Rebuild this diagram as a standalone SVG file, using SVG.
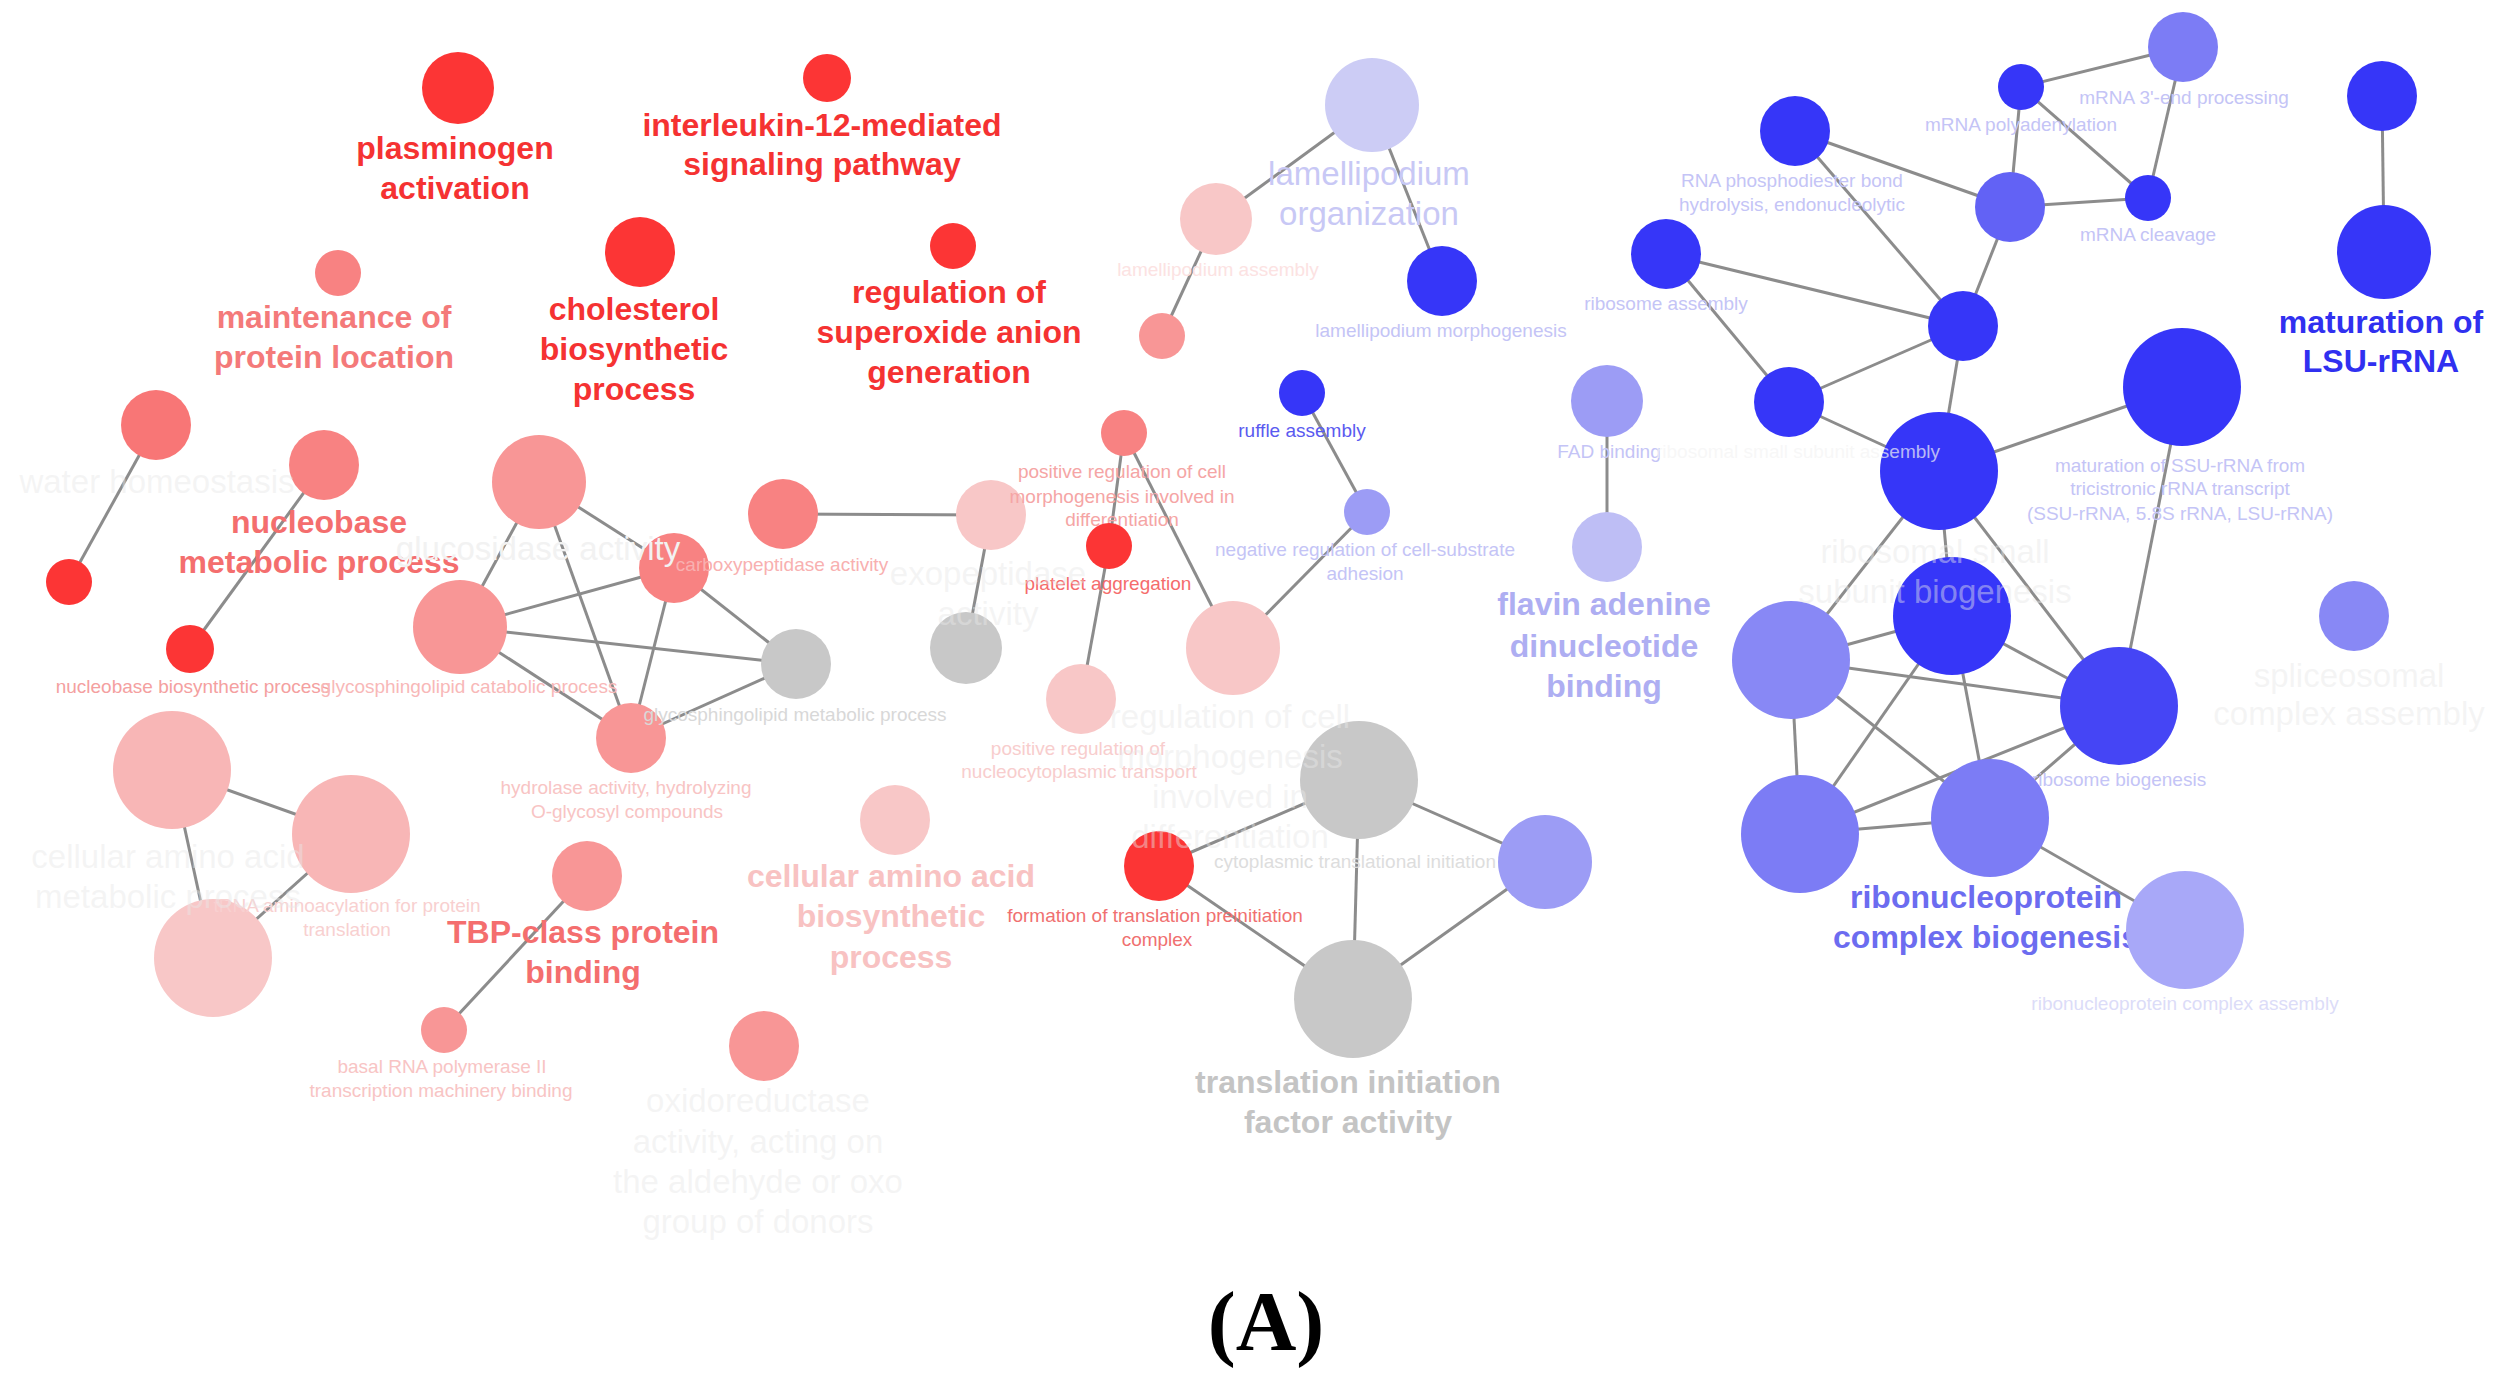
<svg xmlns="http://www.w3.org/2000/svg" width="2504" height="1394" viewBox="0 0 2504 1394">
<style>
text{font-family:"Liberation Sans",Arial,sans-serif;text-anchor:middle}
.big{font-size:32px;font-weight:bold}
.bigr{font-size:33px}
.sm{font-size:19px}
.e line{stroke:#8c8c8c;stroke-width:3}
.r1{fill:#fc3535}.r2{fill:#f87676}.r3{fill:#f88282}.r4{fill:#f89696}.r5{fill:#f8b6b6}.r6{fill:#f8c7c7}
.g{fill:#c8c8c8}
.b1{fill:#3636f8}.b2{fill:#4545f5}.b3{fill:#6262f5}.b4{fill:#7c7cf5}.b5{fill:#8888f5}.b6{fill:#9c9cf5}.b7{fill:#a8a8f8}.b8{fill:#bebef5}.b9{fill:#ccccf5}
.tr{fill:#f53232}.tp{fill:#f47a7a}.tpl{fill:#f8c2c2}.tb{fill:#3030f0}.tbm{fill:#6c6cf0}.tbl{fill:#aeaef2}.tlav{fill:#c8c8f5}.tg{fill:#c4c4c4}
.tf{fill:#e8e8e8;fill-opacity:0.45}
.sb{fill:#c4c4f6}.sr{fill:#f8c4c4}
</style>
<g id="edges" class="e">
<line x1="156" y1="425" x2="69" y2="582"/>
<line x1="324" y1="465" x2="190" y2="649"/>
<line x1="539" y1="482" x2="674" y2="568"/>
<line x1="539" y1="482" x2="460" y2="627"/>
<line x1="539" y1="482" x2="631" y2="738"/>
<line x1="460" y1="627" x2="674" y2="568"/>
<line x1="460" y1="627" x2="796" y2="664"/>
<line x1="460" y1="627" x2="631" y2="738"/>
<line x1="674" y1="568" x2="796" y2="664"/>
<line x1="674" y1="568" x2="631" y2="738"/>
<line x1="796" y1="664" x2="631" y2="738"/>
<line x1="783" y1="514" x2="991" y2="515"/>
<line x1="991" y1="515" x2="966" y2="648"/>
<line x1="172" y1="770" x2="351" y2="834"/>
<line x1="172" y1="770" x2="213" y2="958"/>
<line x1="351" y1="834" x2="213" y2="958"/>
<line x1="587" y1="876" x2="444" y2="1030"/>
<line x1="1216" y1="219" x2="1162" y2="336"/>
<line x1="1372" y1="105" x2="1216" y2="219"/>
<line x1="1372" y1="105" x2="1442" y2="281"/>
<line x1="1124" y1="433" x2="1109" y2="546"/>
<line x1="1124" y1="433" x2="1233" y2="648"/>
<line x1="1109" y1="546" x2="1081" y2="699"/>
<line x1="1302" y1="393" x2="1367" y2="512"/>
<line x1="1367" y1="512" x2="1233" y2="648"/>
<line x1="1607" y1="401" x2="1607" y2="547"/>
<line x1="1159" y1="866" x2="1359" y2="780"/>
<line x1="1159" y1="866" x2="1353" y2="999"/>
<line x1="1359" y1="780" x2="1353" y2="999"/>
<line x1="1359" y1="780" x2="1545" y2="862"/>
<line x1="1545" y1="862" x2="1353" y2="999"/>
<line x1="1795" y1="131" x2="1963" y2="326"/>
<line x1="1795" y1="131" x2="2010" y2="207"/>
<line x1="1666" y1="254" x2="1963" y2="326"/>
<line x1="1666" y1="254" x2="1789" y2="402"/>
<line x1="1789" y1="402" x2="1963" y2="326"/>
<line x1="1789" y1="402" x2="1939" y2="471"/>
<line x1="1963" y1="326" x2="2010" y2="207"/>
<line x1="1963" y1="326" x2="1939" y2="471"/>
<line x1="2021" y1="87" x2="2183" y2="47"/>
<line x1="2021" y1="87" x2="2010" y2="207"/>
<line x1="2021" y1="87" x2="2148" y2="198"/>
<line x1="2183" y1="47" x2="2148" y2="198"/>
<line x1="2010" y1="207" x2="2148" y2="198"/>
<line x1="2382" y1="96" x2="2384" y2="252"/>
<line x1="1939" y1="471" x2="2182" y2="387"/>
<line x1="1939" y1="471" x2="1952" y2="616"/>
<line x1="1939" y1="471" x2="2119" y2="706"/>
<line x1="1939" y1="471" x2="1791" y2="660"/>
<line x1="2182" y1="387" x2="2119" y2="706"/>
<line x1="1952" y1="616" x2="1791" y2="660"/>
<line x1="1952" y1="616" x2="2119" y2="706"/>
<line x1="1791" y1="660" x2="2119" y2="706"/>
<line x1="1952" y1="616" x2="1990" y2="818"/>
<line x1="1952" y1="616" x2="1800" y2="834"/>
<line x1="1791" y1="660" x2="1990" y2="818"/>
<line x1="2119" y1="706" x2="1800" y2="834"/>
<line x1="2119" y1="706" x2="1990" y2="818"/>
<line x1="1791" y1="660" x2="1800" y2="834"/>
<line x1="1800" y1="834" x2="1990" y2="818"/>
<line x1="1990" y1="818" x2="2185" y2="930"/>
</g>
<g id="n-plasminogen"><circle class="r1" cx="458" cy="88" r="36"/><text class="big tr" x="455" y="159">plasminogen</text><text class="big tr" x="455" y="199">activation</text></g>
<g id="n-interleukin"><circle class="r1" cx="827" cy="78" r="24"/><text class="big tr" x="822" y="136">interleukin-12-mediated</text><text class="big tr" x="822" y="175">signaling pathway</text></g>
<g id="n-cholesterol"><circle class="r1" cx="640" cy="252" r="35"/><text class="big tr" x="634" y="320">cholesterol</text><text class="big tr" x="634" y="360">biosynthetic</text><text class="big tr" x="634" y="400">process</text></g>
<g id="n-superoxide"><circle class="r1" cx="953" cy="246" r="23"/><text class="big tr" x="949" y="303">regulation of</text><text class="big tr" x="949" y="343">superoxide anion</text><text class="big tr" x="949" y="383">generation</text></g>
<g id="n-maintenance"><circle class="r3" cx="338" cy="273" r="23"/><text class="big tp" x="334" y="328">maintenance of</text><text class="big tp" x="334" y="368">protein location</text></g>
<g id="n-water1"><circle class="r2" cx="156" cy="425" r="35"/></g>
<g id="n-water2"><circle class="r1" cx="69" cy="582" r="23"/></g>
<g id="n-nucleobase"><circle class="r3" cx="324" cy="465" r="35"/><text class="big" fill="#f46e6e" x="319" y="533">nucleobase</text><text class="big" fill="#f46e6e" x="319" y="573">metabolic process</text></g>
<g id="n-nucbio"><circle class="r1" cx="190" cy="649" r="24"/><text class="sm" fill="#f4a0a0" x="193" y="693">nucleobase biosynthetic process</text></g>
<g id="n-glyco-cat"><circle class="r4" cx="460" cy="627" r="47"/><text class="sm" fill="#f8b8b8" x="469" y="693">glycosphingolipid catabolic process</text></g>
<g id="n-glucA"><circle class="r4" cx="539" cy="482" r="47"/></g>
<g id="n-hydrolase"><circle class="r4" cx="631" cy="738" r="35"/><text class="sm sr" x="626" y="794">hydrolase activity, hydrolyzing</text><text class="sm sr" x="627" y="818">O-glycosyl compounds</text></g>
<g id="n-glyco-met"><circle class="g" cx="796" cy="664" r="35"/><text class="sm" fill="#d8d8d8" x="795" y="721">glycosphingolipid metabolic process</text></g>
<g id="n-carboxy"><circle class="r3" cx="674" cy="568" r="35"/><text class="sm" fill="#f8b0b0" x="782" y="571">carboxypeptidase activity</text></g>
<g id="n-exo1"><circle class="r3" cx="783" cy="514" r="35"/></g>
<g id="n-exo2"><circle class="r6" cx="991" cy="515" r="35"/></g>
<g id="n-exo3"><circle class="g" cx="966" cy="648" r="36"/></g>
<g id="n-aa1"><circle class="r5" cx="172" cy="770" r="59"/></g>
<g id="n-aa2"><circle class="r5" cx="351" cy="834" r="59"/></g>
<g id="n-trna"><circle class="r6" cx="213" cy="958" r="59"/><text class="sm" fill="#f8d0d0" x="347" y="912">tRNA aminoacylation for protein</text><text class="sm" fill="#f8d0d0" x="347" y="936">translation</text></g>
<g id="n-tbp"><circle class="r4" cx="587" cy="876" r="35"/><text class="big" fill="#f46e6e" x="583" y="943">TBP-class protein</text><text class="big" fill="#f46e6e" x="583" y="983">binding</text></g>
<g id="n-basal"><circle class="r4" cx="444" cy="1030" r="23"/><text class="sm sr" x="442" y="1073">basal RNA polymerase II</text><text class="sm sr" x="441" y="1097">transcription machinery binding</text></g>
<g id="n-oxido"><circle class="r4" cx="764" cy="1046" r="35"/></g>
<g id="n-aabio"><circle class="r6" cx="895" cy="820" r="35"/><text class="big tpl" x="891" y="887">cellular amino acid</text><text class="big tpl" x="891" y="927">biosynthetic</text><text class="big tpl" x="891" y="968">process</text></g>
<g id="n-lam-asm"><circle class="r6" cx="1216" cy="219" r="36"/><text class="sm" fill="#fce2e2" x="1218" y="276">lamellipodium assembly</text></g>
<g id="n-lam-small"><circle class="r4" cx="1162" cy="336" r="23"/></g>
<g id="n-lam-org"><circle class="b9" cx="1372" cy="105" r="47"/><text class="bigr tlav" x="1369" y="185">lamellipodium</text><text class="bigr tlav" x="1369" y="225">organization</text></g>
<g id="n-lam-morph"><circle class="b1" cx="1442" cy="281" r="35"/><text class="sm sb" x="1441" y="337">lamellipodium morphogenesis</text></g>
<g id="n-posmorph"><circle class="r3" cx="1124" cy="433" r="23"/><text class="sm" fill="#f5a5a5" x="1122" y="478">positive regulation of cell</text><text class="sm" fill="#f5a5a5" x="1122" y="503">morphogenesis involved in</text><text class="sm" fill="#f5a5a5" x="1122" y="526">differentiation</text></g>
<g id="n-platelet"><circle class="r1" cx="1109" cy="546" r="23"/><text class="sm" fill="#f56c6c" x="1108" y="590">platelet aggregation</text></g>
<g id="n-nucleocyto"><circle class="r6" cx="1081" cy="699" r="35"/><text class="sm" fill="#f8cdcd" x="1078" y="755">positive regulation of</text><text class="sm" fill="#f8cdcd" x="1079" y="778">nucleocytoplasmic transport</text></g>
<g id="n-regmorph"><circle class="r6" cx="1233" cy="648" r="47"/></g>
<g id="n-ruffle"><circle class="b1" cx="1302" cy="393" r="23"/><text class="sm" fill="#5a5af0" x="1302" y="437">ruffle assembly</text></g>
<g id="n-negreg"><circle class="b6" cx="1367" cy="512" r="23"/><text class="sm sb" x="1365" y="556">negative regulation of cell-substrate</text><text class="sm sb" x="1365" y="580">adhesion</text></g>
<g id="n-fad"><circle class="b6" cx="1607" cy="401" r="36"/><text class="sm sb" x="1609" y="458">FAD binding</text></g>
<g id="n-flavin"><circle class="b8" cx="1607" cy="547" r="35"/><text class="big tbl" x="1604" y="615">flavin adenine</text><text class="big tbl" x="1604" y="657">dinucleotide</text><text class="big tbl" x="1604" y="697">binding</text></g>
<g id="n-tl-gray1"><circle class="g" cx="1359" cy="780" r="59"/></g>
<g id="n-formation"><circle class="r1" cx="1159" cy="866" r="35"/><text class="sm" fill="#f07070" x="1155" y="922">formation of translation preinitiation</text><text class="sm" fill="#f07070" x="1157" y="946">complex</text></g>
<g id="n-cyto-init"><circle class="b6" cx="1545" cy="862" r="47"/><text class="sm" fill="#dddddd" x="1355" y="868">cytoplasmic translational initiation</text></g>
<g id="n-tl-factor"><circle class="g" cx="1353" cy="999" r="59"/><text class="big tg" x="1348" y="1093">translation initiation</text><text class="big tg" x="1348" y="1133">factor activity</text></g>
<g id="n-rnaphos"><circle class="b1" cx="1795" cy="131" r="35"/><text class="sm sb" x="1792" y="187">RNA phosphodiester bond</text><text class="sm sb" x="1792" y="211">hydrolysis, endonucleolytic</text></g>
<g id="n-riboasm"><circle class="b1" cx="1666" cy="254" r="35"/><text class="sm sb" x="1666" y="310">ribosome assembly</text></g>
<g id="n-polyA"><circle class="b1" cx="2021" cy="87" r="23"/><text class="sm sb" x="2021" y="131">mRNA polyadenylation</text></g>
<g id="n-3end"><circle class="b4" cx="2183" cy="47" r="35"/><text class="sm sb" x="2184" y="104">mRNA 3'-end processing</text></g>
<g id="n-rnaproc"><circle class="b3" cx="2010" cy="207" r="35"/></g>
<g id="n-cleavage"><circle class="b1" cx="2148" cy="198" r="23"/><text class="sm sb" x="2148" y="241">mRNA cleavage</text></g>
<g id="n-hub"><circle class="b1" cx="1963" cy="326" r="35"/></g>
<g id="n-lsu1"><circle class="b1" cx="2382" cy="96" r="35"/></g>
<g id="n-lsu2"><circle class="b1" cx="2384" cy="252" r="47"/><text class="big tb" x="2381" y="333">maturation of</text><text class="big tb" x="2381" y="372">LSU-rRNA</text></g>
<g id="n-N1"><circle class="b1" cx="1939" cy="471" r="59"/></g>
<g id="n-riblarge"><circle class="b1" cx="1789" cy="402" r="35"/><text class="sm" fill="#f4f4f4" fill-opacity="0.7" x="1798" y="458">ribosomal small subunit assembly</text></g>
<g id="n-ssu"><circle class="b1" cx="2182" cy="387" r="59"/><text class="sm sb" x="2180" y="472">maturation of SSU-rRNA from</text><text class="sm sb" x="2180" y="495">tricistronic rRNA transcript</text><text class="sm sb" x="2180" y="520">(SSU-rRNA, 5.8S rRNA, LSU-rRNA)</text></g>
<g id="n-N3"><circle class="b5" cx="1791" cy="660" r="59"/></g>
<g id="n-N4"><circle class="b1" cx="1952" cy="616" r="59"/></g>
<g id="n-ribobio"><circle class="b2" cx="2119" cy="706" r="59"/><text class="sm sb" x="2119" y="786">ribosome biogenesis</text></g>
<g id="n-N6"><circle class="b4" cx="1800" cy="834" r="59"/></g>
<g id="n-rnpbio"><circle class="b4" cx="1990" cy="818" r="59"/><text class="big tbm" x="1986" y="908">ribonucleoprotein</text><text class="big tbm" x="1986" y="948">complex biogenesis</text></g>
<g id="n-rnpasm"><circle class="b7" cx="2185" cy="930" r="59"/><text class="sm" fill="#dcdcf8" x="2185" y="1010">ribonucleoprotein complex assembly</text></g>
<g id="n-splice"><circle class="b5" cx="2354" cy="616" r="35"/></g>
<g id="cluster-labels">
<text class="bigr tf" x="157" y="493">water homeostasis</text>
<text class="bigr" fill="#f2f2f2" x="538" y="560">glucosidase activity</text>
<text class="bigr tf" x="988" y="585">exopeptidase</text>
<text class="bigr tf" x="988" y="625">activity</text>
<text class="bigr tf" x="1230" y="728">regulation of cell</text>
<text class="bigr tf" x="1230" y="768">morphogenesis</text>
<text class="bigr tf" x="1230" y="808">involved in</text>
<text class="bigr tf" x="1230" y="848">differentiation</text>
<text class="bigr tf" x="168" y="868">cellular amino acid</text>
<text class="bigr tf" x="168" y="908">metabolic process</text>
<text class="bigr tf" x="758" y="1112">oxidoreductase</text>
<text class="bigr tf" x="758" y="1153">activity, acting on</text>
<text class="bigr tf" x="758" y="1193">the aldehyde or oxo</text>
<text class="bigr tf" x="758" y="1233">group of donors</text>
<text class="bigr tf" x="1935" y="563">ribosomal small</text>
<text class="bigr tf" x="1935" y="603">subunit biogenesis</text>
<text class="bigr tf" x="2349" y="687">spliceosomal</text>
<text class="bigr tf" x="2349" y="725">complex assembly</text>
</g>
<text x="1266" y="1350" style="font-family:'Liberation Serif','Times New Roman',serif;font-size:84px;font-weight:bold;fill:#000">(A)</text>
</svg>
